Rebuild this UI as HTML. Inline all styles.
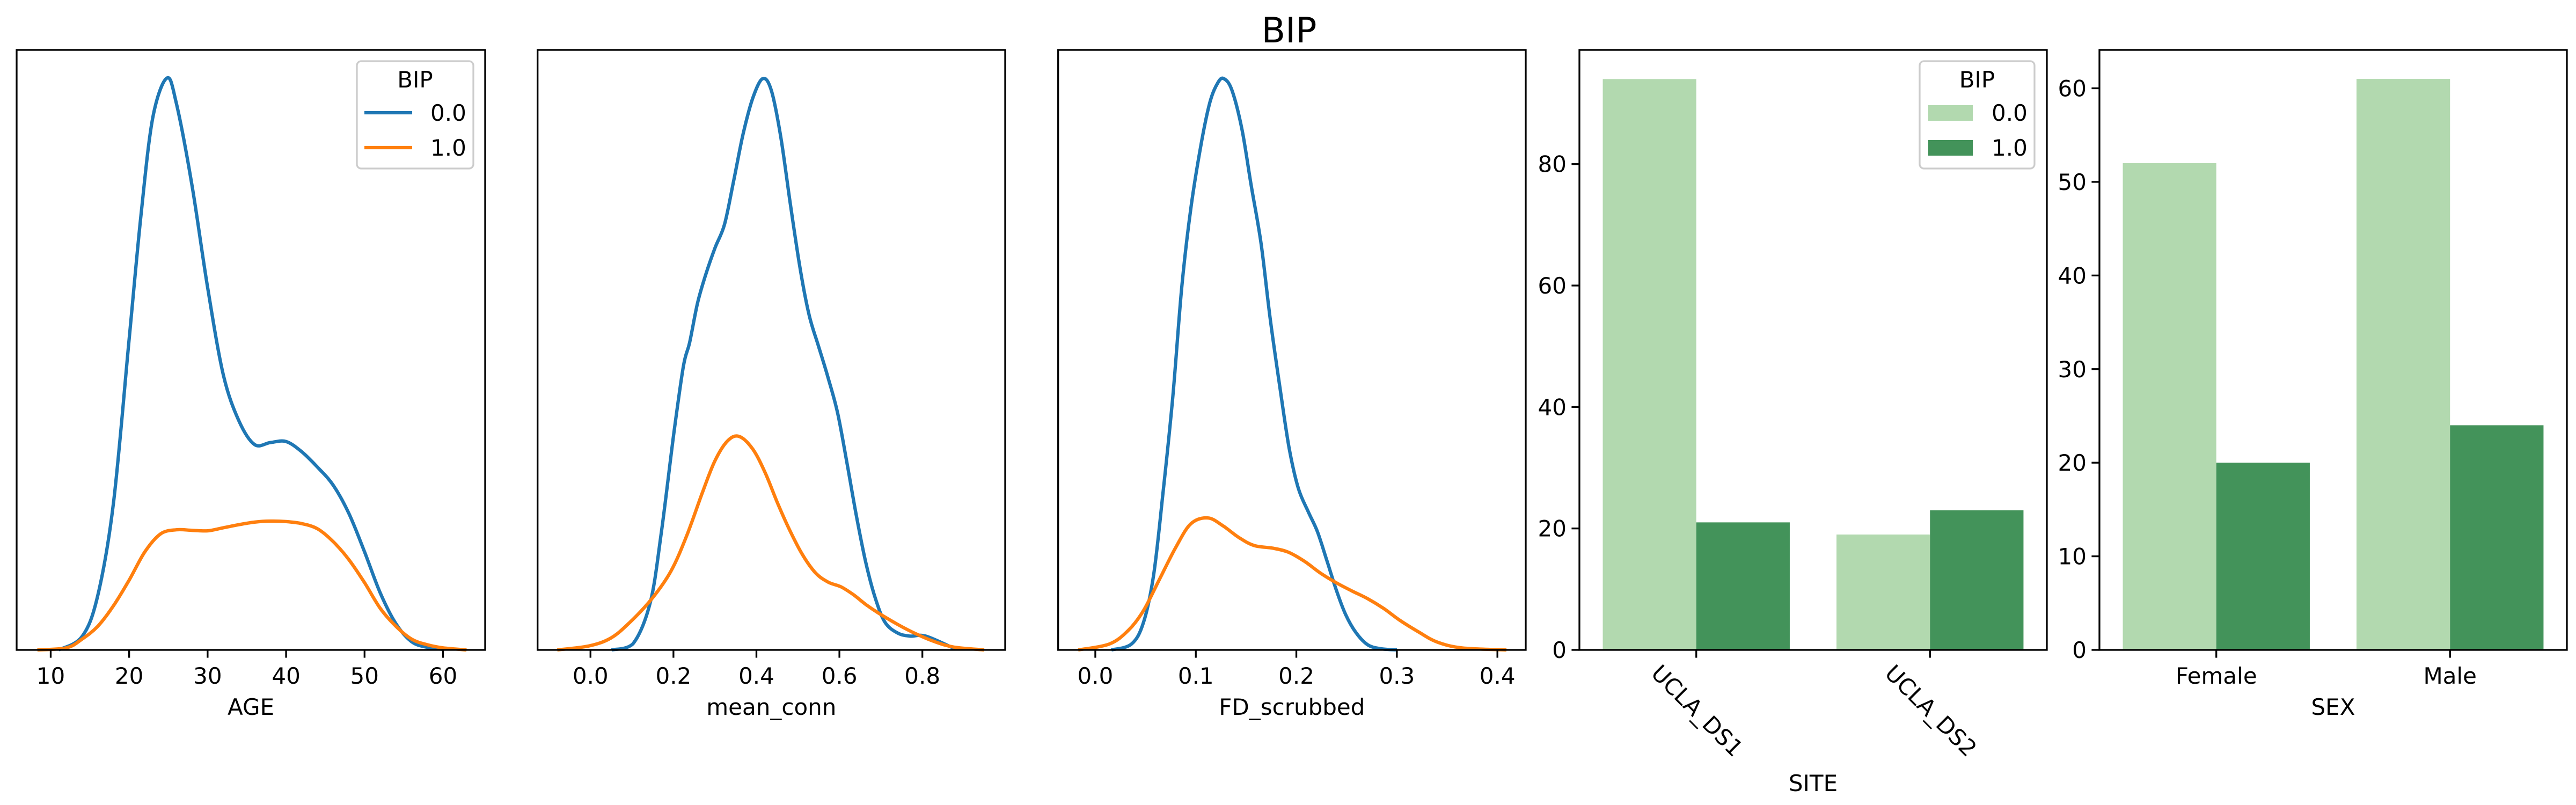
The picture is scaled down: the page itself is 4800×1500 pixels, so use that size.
<!DOCTYPE html>
<html><head><meta charset="utf-8">
<style>
html,body{margin:0;padding:0;background:#fff;}
svg{display:block;font-family:"DejaVu Sans","Liberation Sans",sans-serif;}
</style></head>
<body>
<svg id="fig" width="4800" height="1500" viewBox="0 0 4800 1500" xmlns="http://www.w3.org/2000/svg">
<rect width="4800" height="1500" fill="#fff"/>
<text x="2402" y="79" font-size="65" text-anchor="middle">BIP</text>
<g id="root"></g>
</svg>
<script>
// ---- data ----
const ageX0 = [11,14,16,18,20,21.5,23,24.8,26,28,30,32,34,36,38,40,42,44,46,48,50,52,54,56,58,60];
const ageY0 = [0,26,106,286,606,846,1036,1114,1066,906,706,536,446,400,404,406,386,356,321,266,191,111,51,16,5,1];
const ageX1 = [8.3,12,14,16,18,20,22,24,26,28,30,32,34,36,38,40,42,44,46,48,50,52,54,56,58,60,63];
const ageY1 = [0,4,21,46,86,136,191,226,234,233,232,238,244,249,251,250,246,236,211,176,131,81,46,21,10,4,0];

const connX0 = [0.051,0.102,0.144,0.171,0.201,0.224,0.239,0.258,0.277,0.300,0.323,0.345,0.368,0.391,0.415,0.436,0.459,0.482,0.505,0.527,0.550,0.573,0.596,0.619,0.641,0.664,0.687,0.710,0.740,0.770,0.808,0.880];
const connY0 = [0,15,120,300,550,720,780,880,950,1020,1080,1190,1310,1400,1450,1420,1300,1130,970,850,770,690,600,470,340,220,130,70,43,35,35,2];
const connX1 = [-0.080,-0.004,0.049,0.095,0.148,0.194,0.232,0.270,0.300,0.330,0.358,0.391,0.421,0.452,0.482,0.512,0.543,0.573,0.604,0.634,0.664,0.695,0.740,0.786,0.832,0.877,0.949];
const connY1 = [0,10,30,70,130,200,290,400,480,530,542,510,450,370,300,240,195,172,160,140,115,93,65,40,20,7,0];

const fdX0 = [0.016,0.036,0.048,0.058,0.067,0.077,0.086,0.095,0.105,0.114,0.122,0.128,0.136,0.146,0.155,0.165,0.174,0.184,0.193,0.202,0.212,0.221,0.230,0.240,0.249,0.259,0.271,0.284,0.300];
const fdY0 = [0,15,70,190,390,640,920,1120,1280,1390,1440,1450,1420,1320,1180,1030,840,660,510,410,350,300,230,150,90,45,13,3,0];
const fdX1 = [-0.017,0.014,0.033,0.048,0.064,0.080,0.095,0.112,0.127,0.143,0.158,0.177,0.192,0.208,0.224,0.240,0.255,0.271,0.287,0.303,0.322,0.340,0.365,0.409];
const fdY1 = [0,15,50,100,180,260,320,335,315,285,265,258,248,225,195,170,150,130,105,75,45,20,5,0];

const siteCats = ["UCLA_DS1","UCLA_DS2"];
const siteVals0 = [94,19];
const siteVals1 = [21,23];
const siteTicks = [0,20,40,60,80];

const sexCats = ["Female","Male"];
const sexVals0 = [52,61];
const sexVals1 = [20,24];
const sexTicks = [0,10,20,30,40,50,60];

const ageTicks = [10,20,30,40,50,60];
const connTicks = [0.0,0.2,0.4,0.6,0.8];
const fdTicks = [0.0,0.1,0.2,0.3,0.4];
const legendLabels = ["0.0","1.0"];

// ---- helpers ----
const NS="http://www.w3.org/2000/svg";
const root=document.getElementById('root');
function mk(tag,attrs,parent){const e=document.createElementNS(NS,tag);for(const k in attrs)e.setAttribute(k,attrs[k]);(parent||root).appendChild(e);return e;}
const TOP=93,BOT=1211;
const BLUE="#1f77b4",ORANGE="#ff7f0e",LG="#b2d9af",DG="#43935a";

function smoothPath(pts){
  let d="M"+pts[0][0].toFixed(1)+","+pts[0][1].toFixed(1);
  for(let i=0;i<pts.length-1;i++){
    const p0=pts[Math.max(0,i-1)],p1=pts[i],p2=pts[i+1],p3=pts[Math.min(pts.length-1,i+2)];
    const c1x=p1[0]+(p2[0]-p0[0])/6,c1y=p1[1]+(p2[1]-p0[1])/6;
    const c2x=p2[0]-(p3[0]-p1[0])/6,c2y=p2[1]-(p3[1]-p1[1])/6;
    d+=" C"+c1x.toFixed(1)+","+Math.min(BOT,c1y).toFixed(1)+" "+c2x.toFixed(1)+","+Math.min(BOT,c2y).toFixed(1)+" "+p2[0].toFixed(1)+","+p2[1].toFixed(1);
  }
  return d;
}

function frame(L,R,name){
  const r=mk('rect',{x:L,y:TOP,width:R-L,height:BOT-TOP,fill:'none',stroke:'#000','stroke-width':3.3});
  
  
}

function xTicks(L,sx,ticks,fmt,name){
  ticks.forEach(t=>{
    const x=sx(t);
    const l=mk('line',{x1:x,x2:x,y1:BOT,y2:BOT+14.6,stroke:'#000','stroke-width':3.3});
    
    
    const tx=mk('text',{x:x,y:BOT+63,'font-size':42,'text-anchor':'middle'});
    tx.textContent=fmt(t);
    
    
  });
}

function kdePanel(L,R,xmin,xmax,ymax,series,ticks,fmt,label,name){
  const sx=v=>L+(v-xmin)/(xmax-xmin)*(R-L);
  const sy=v=>BOT-v/ymax*(BOT-TOP);
  series.forEach(s=>{
    const pts=s.x.map((v,i)=>[sx(v),sy(s.y[i])]);
    const p=mk('path',{d:smoothPath(pts),fill:'none',stroke:s.c,'stroke-width':6.25,'stroke-linejoin':'round','stroke-linecap':'butt'});
    
    
  });
  frame(L,R,name);
  xTicks(L,sx,ticks,fmt,name);
  const t=mk('text',{x:(L+R)/2,y:1332,'font-size':42,'text-anchor':'middle'});
  t.textContent=label;
  
  
}

function barPanel(L,R,cats,v0,v1,ymax,ticks,label,name,rotate,labelY){
  const bw=(R-L)/(cats.length);
  const cx=i=>L+bw*(i+0.5);
  const sy=v=>BOT-v/ymax*(BOT-TOP);
  const w=bw*0.4;
  cats.forEach((c,i)=>{
    const b0=mk('rect',{x:cx(i)-w,y:sy(v0[i]),width:w,height:BOT-sy(v0[i]),fill:LG});
    
    
    const b1=mk('rect',{x:cx(i),y:sy(v1[i]),width:w,height:BOT-sy(v1[i]),fill:DG});
    
    
    const tk=mk('line',{x1:cx(i),x2:cx(i),y1:BOT,y2:BOT+14.6,stroke:'#000','stroke-width':3.3});
    
    
    let tx;
    if(rotate){
      tx=mk('text',{x:0,y:15,'font-size':42,'text-anchor':'middle',transform:'translate('+(cx(i)+2)+','+(BOT+113)+') rotate(45)'});
    }else{
      tx=mk('text',{x:cx(i),y:BOT+63,'font-size':42,'text-anchor':'middle'});
    }
    tx.textContent=c;
    
    
  });
  ticks.forEach(t=>{
    const y=sy(t);
    const l=mk('line',{x1:L-14.6,x2:L,y1:y,y2:y,stroke:'#000','stroke-width':3.3});
    
    
    const tx=mk('text',{x:L-24,y:y+15,'font-size':42,'text-anchor':'end'});
    tx.textContent=t;
    
    
  });
  frame(L,R,name);
  const t=mk('text',{x:(L+R)/2,y:labelY,'font-size':42,'text-anchor':'middle'});
  t.textContent=label;
  
  
}

function legend(x,y,w,patch,name){
  const g=mk('g',{});
  
  
  mk('rect',{x:x,y:y,width:w,height:200,rx:8,fill:'#fff','fill-opacity':0.8,stroke:'#cccccc','stroke-width':3.3},g);
  const tt=mk('text',{x:x+w/2,y:y+49,'font-size':42,'text-anchor':'middle'},g);
  tt.textContent="BIP";
  
  
  const cols=patch?[LG,DG]:[BLUE,ORANGE];
  legendLabels.forEach((lab,i)=>{
    const cy=y+96+i*65;
    let m;
    if(patch){m=mk('rect',{x:x+16,y:cy-14,width:83,height:29,fill:cols[i]},g);}
    else{m=mk('line',{x1:x+14,x2:x+103,y1:cy,y2:cy,stroke:cols[i],'stroke-width':6.25},g);}
    
    
    const tx=mk('text',{x:patch?x+134:x+137,y:cy+15,'font-size':42},g);
    tx.textContent=lab;
    
    
  });
}

// ---- panels ----
kdePanel(31,904,5.66,65.37,1169,[{x:ageX0,y:ageY0,c:BLUE,n:'0'},{x:ageX1,y:ageY1,c:ORANGE,n:'1'}],ageTicks,t=>String(t),"AGE","age");
legend(665,114,217,false,"age");
kdePanel(1001.7,1873,-0.1275,0.9996,1523,[{x:connX0,y:connY0,c:BLUE,n:'0'},{x:connX1,y:connY1,c:ORANGE,n:'1'}],connTicks,t=>t.toFixed(1),"mean_conn","conn");
kdePanel(1971.7,2843,-0.03696,0.4282,1523,[{x:fdX0,y:fdY0,c:BLUE,n:'0'},{x:fdX1,y:fdY1,c:ORANGE,n:'1'}],fdTicks,t=>t.toFixed(1),"FD_scrubbed","fd");
barPanel(2943,3814,siteCats,siteVals0,siteVals1,98.8,siteTicks,"SITE","site",true,1474);
legend(3577,114,214,true,"site");
barPanel(3912,4783,sexCats,sexVals0,sexVals1,64.1,sexTicks,"SEX","sex",false,1332);
</script>
</body></html>
